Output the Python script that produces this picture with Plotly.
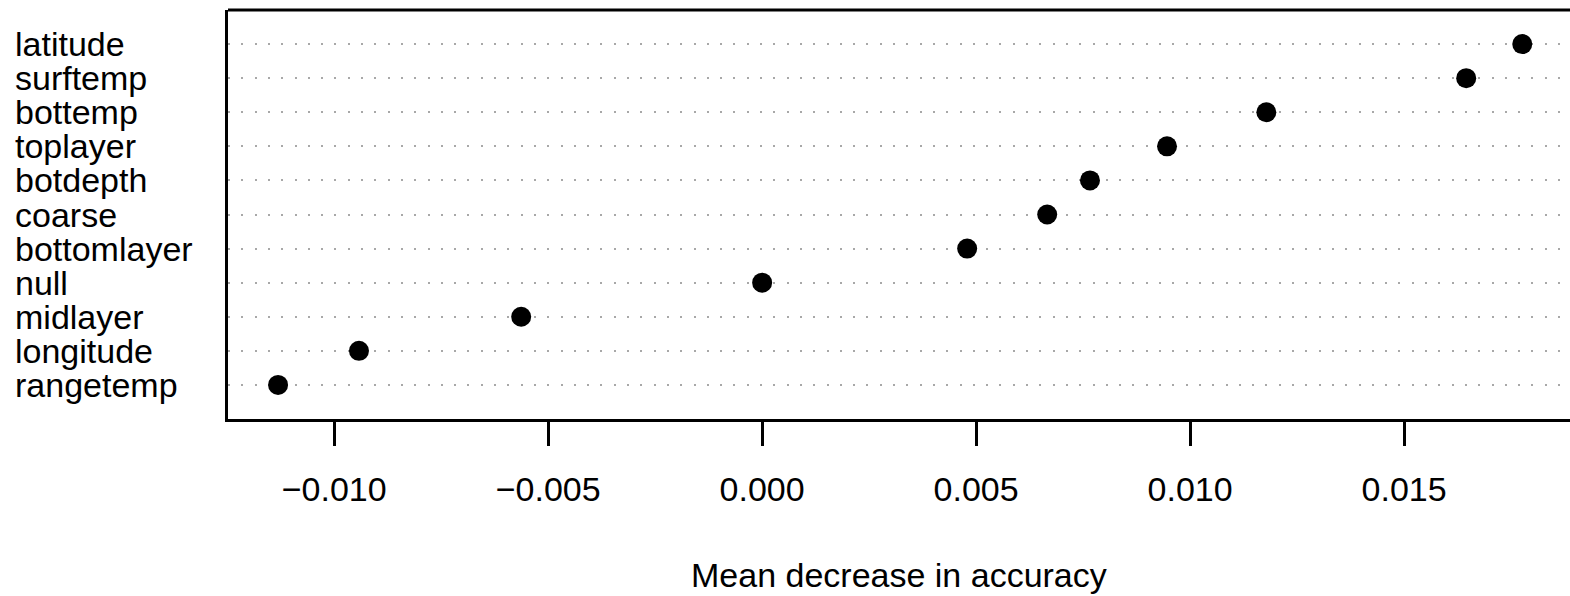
import plotly.graph_objects as go

variables = ["latitude", "surftemp", "bottemp", "toplayer", "botdepth", "coarse",
             "bottomlayer", "null", "midlayer", "longitude", "rangetemp"]
importance = [0.01776, 0.01645, 0.01178, 0.00946, 0.00766, 0.00666,
              0.00479, 0.0, -0.00563, -0.00942, -0.01131]
tick_vals = [-0.010, -0.005, 0.000, 0.005, 0.010, 0.015]
tick_text = ["\u22120.010", "\u22120.005", "0.000", "0.005", "0.010", "0.015"]
x_title = "Mean decrease in accuracy"

W, H = 1570, 596
ML, MT, MB, MR = 228, 10, 177, 0
FONT = "Liberation Sans, Arial, sans-serif"
FS = 34

order = list(reversed(variables))

fig = go.Figure()
fig.add_trace(go.Scatter(
    x=importance, y=variables, mode="markers",
    marker=dict(size=20, color="black", line=dict(width=0)),
    showlegend=False, hoverinfo="skip",
))

for v in variables:
    fig.add_annotation(x=(13 - ML) / (W - ML - MR), xref="paper", y=v, yref="y",
                       text=v, showarrow=False, xanchor="left", yanchor="middle",
                       font=dict(family=FONT, size=FS, color="black"))

fig.add_annotation(x=0.5, xref="paper", y=(H - MB - 575) / (H - MT - MB), yref="paper",
                   text=x_title, showarrow=False, xanchor="center", yanchor="middle",
                   font=dict(family=FONT, size=FS, color="black"))

fig.add_shape(type="line", xref="paper", yref="paper", x0=0, x1=1.01, y0=1, y1=1,
              line=dict(color="black", width=3))

fig.update_layout(
    width=W, height=H,
    margin=dict(l=ML, r=MR, t=MT, b=MB, pad=0),
    plot_bgcolor="white", paper_bgcolor="white",
    font=dict(family=FONT, size=FS, color="black"),
    xaxis=dict(
        range=[-0.01248, -0.01248 + (W - ML - MR) / 42800],
        tickvals=tick_vals, ticktext=tick_text,
        ticks="outside", ticklen=24, tickwidth=3, tickcolor="black",
        showline=True, linewidth=3, linecolor="black", mirror=False,
        showgrid=False, zeroline=False,
        tickfont=dict(family=FONT, size=FS, color="black"),
        ticklabelstandoff=14,
    ),
    yaxis=dict(
        type="category", categoryorder="array", categoryarray=order,
        range=[-1, len(variables)],
        showticklabels=False, ticks="",
        showline=True, linewidth=3, linecolor="black", mirror=False,
        showgrid=True, gridcolor="#A8A8A8", gridwidth=2, griddash="2px,11.3px",
        zeroline=False,
    ),
)

fig.write_html("out.html")
